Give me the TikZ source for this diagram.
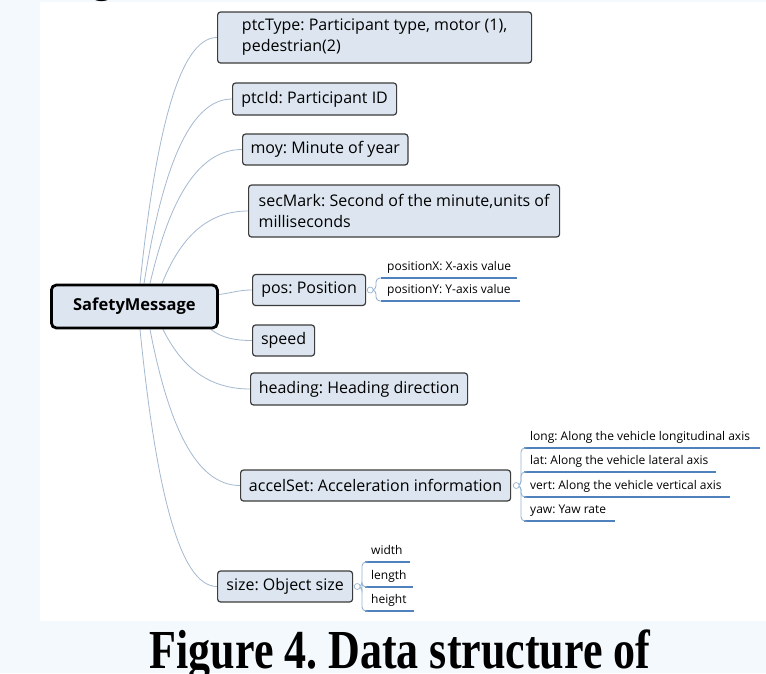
\documentclass[tikz,border=0pt]{standalone}
\usepackage{fontspec}
\usepackage{graphicx}
\setmainfont{Open Sans}
\newfontfamily\capfont{Liberation Serif}
\usetikzlibrary{calc}
\pgfdeclarelayer{bg}
\pgfdeclarelayer{conns}
\pgfsetlayers{bg,conns,main}
\definecolor{bgc}{RGB}{244,249,253}
\definecolor{boxfill}{RGB}{221,230,240}
\definecolor{boxdraw}{RGB}{60,60,60}
\definecolor{connc}{RGB}{165,185,208}
\definecolor{ulc}{RGB}{79,129,189}
\definecolor{brkc}{RGB}{150,180,212}
\frenchspacing
\begin{document}
\frenchspacing
\begin{tikzpicture}[x=1pt,y=-1pt,
  topic/.style={draw=boxdraw, fill=boxfill, line width=1.2pt, rounded corners=3pt,
    font=\frenchspacing\fontsize{16}{21}\selectfont, inner xsep=8pt, inner ysep=0pt, anchor=west},
  rootbox/.style={draw=black, fill=boxfill, line width=2.8pt, rounded corners=5pt,
    font=\fontsize{16.5}{20}\selectfont\bfseries, anchor=west,
    minimum width=166pt, minimum height=43pt},
  conn/.style={draw=connc, line width=0.8pt},
  sub/.style={font=\frenchspacing\fontsize{12}{14}\selectfont, anchor=south west, inner xsep=6pt,
    inner ysep=4pt, text height=9pt, text depth=3pt},
  ul/.style={draw=ulc, line width=1.4pt},
  brk/.style={draw=brkc, line width=0.9pt, rounded corners=4pt},
  jn/.style={circle, draw=brkc, fill=white, line width=0.7pt, inner sep=0pt, minimum size=6pt}
]
\useasboundingbox (0,0) rectangle (766,673);
\begin{pgfonlayer}{bg}
\fill[bgc] (0,0) rectangle (766,673);
\fill[white] (40,2) rectangle (766,621);
\end{pgfonlayer}
\begin{scope}
\clip (0,0) rectangle (766,673);
\node[font=\capfont\bfseries\fontsize{44}{50}\selectfont, anchor=base, inner sep=0pt] (gfrag) at (102,-11) {\scalebox{1}[1.25]{g}};
\end{scope}

% topic boxes
\node[topic, minimum width=314pt, minimum height=51pt, align=left] (ptcType) at (217,37.5)
  {ptcType: Participant type, motor (1),\\pedestrian(2)};
\node[topic, minimum width=164pt, minimum height=32pt] (ptcId) at (232,99) {ptcId: Participant ID};
\node[topic, minimum width=165pt, minimum height=31pt] (moy) at (242,149.5) {moy: Minute of year};
\node[topic, minimum width=311pt, minimum height=52pt, align=left] (secMark) at (248,211)
  {secMark: Second of the minute,units of\\milliseconds};
\node[topic, minimum width=113pt, minimum height=31pt] (pos) at (252,290) {pos: Position};
\node[rootbox] (root) at (50,306.5) {SafetyMessage};
\node[topic, minimum width=62pt, minimum height=31pt] (speed) at (252,340.5) {speed};
\node[topic, minimum width=217pt, minimum height=32pt] (heading) at (250,389) {heading: Heading direction};
\node[topic, minimum width=270pt, minimum height=31pt] (accelSet) at (240,485.5) {accelSet: Acceleration information};
\node[topic, minimum width=135pt, minimum height=31pt] (size) at (217,586.5) {size: Object size};

% connectors (behind boxes)
\begin{pgfonlayer}{conns}
\path[conn] ($(root.north west)+(90,0)$) .. controls (155.4,136.8) and (178.5,37.5) .. (ptcType.west);
\path[conn] ($(root.north west)+(94,0)$) .. controls (161.6,173.4) and (188,99) .. (ptcId.west);
\path[conn] ($(root.north west)+(100,0)$) .. controls (168.4,204) and (196,149.5) .. (moy.west);
\path[conn] ($(root.north west)+(112,0)$) .. controls (179.2,240.6) and (205,211) .. (secMark.west);
\path[conn] ($(root.east)+(0,-12)$) .. controls (232,293) and (238,290) .. (pos.west);
\path[conn] ($(root.south east)+(-8,0)$) .. controls (222,338) and (235,340.5) .. (speed.west);
\path[conn] ($(root.south west)+(113,0)$) .. controls (180.4,364.6) and (206.5,389) .. (heading.west);
\path[conn] ($(root.south west)+(100,0)$) .. controls (168,422.8) and (195,485.5) .. (accelSet.west);
\path[conn] ($(root.south west)+(90,0)$) .. controls (155.4,483.4) and (178.5,586.5) .. (size.west);
\end{pgfonlayer}

% sub-items
\node[sub] (pX) at (381,278) {positionX: X-axis value};
\node[sub] (pY) at (381,301) {positionY: Y-axis value};
\node[sub] (along) at (524,448) {long: Along the vehicle longitudinal axis};
\node[sub] (alat) at (524,472) {lat: Along the vehicle lateral axis};
\node[sub] (avert) at (524,497) {vert: Along the vehicle vertical axis};
\node[sub] (ayaw) at (524,521) {yaw: Yaw rate};
\node[sub] (swidth) at (365,562) {width};
\node[sub] (slength) at (365,587) {length};
\node[sub] (sheight) at (365,611) {height};

% underlines
\draw[ul] (pX.south west) -- ++(136,0);
\draw[ul] (pY.south west) -- ++(139,0);
\draw[ul] (along.south west) -- ++(236,0);
\draw[ul] (alat.south west) -- ++(192,0);
\draw[ul] (avert.south west) -- ++(206,0);
\draw[ul] (ayaw.south west) -- ++(91,0);
\draw[ul] (swidth.south west) -- ++(45,0);
\draw[ul] (slength.south west) -- ++(48,0);
\draw[ul] (sheight.south west) -- ++(49,0);

% junction points
\coordinate (jposc) at ($(pos.east)+(4,0)$);
\coordinate (jaccc) at ($(accelSet.east)+(5,0)$);
\coordinate (jsizec) at ($(size.east)+(4,0)$);

% brackets
\foreach \c in {pX,pY}{
  \draw[brk] (jposc) -| ($(\c.south west)+(-5,0)$) -- (\c.south west);}
\foreach \c in {along,alat,avert,ayaw}{
  \draw[brk] (jaccc) -| ($(\c.south west)+(-3,0)$) -- (\c.south west);}
\foreach \c in {swidth,slength,sheight}{
  \draw[brk] (jsizec) -| ($(\c.south west)+(-3,0)$) -- (\c.south west);}
\node[jn] (jpos) at (jposc) {};
\node[jn] (jacc) at (jaccc) {};
\node[jn] (jsize) at (jsizec) {};

% caption
\node[font=\capfont\bfseries\fontsize{44}{50}\selectfont, anchor=base, inner sep=0pt] (cap) at (400,668)
  {\scalebox{1}[1.25]{Figure 4. Data structure of}};
\end{tikzpicture}
\end{document}
